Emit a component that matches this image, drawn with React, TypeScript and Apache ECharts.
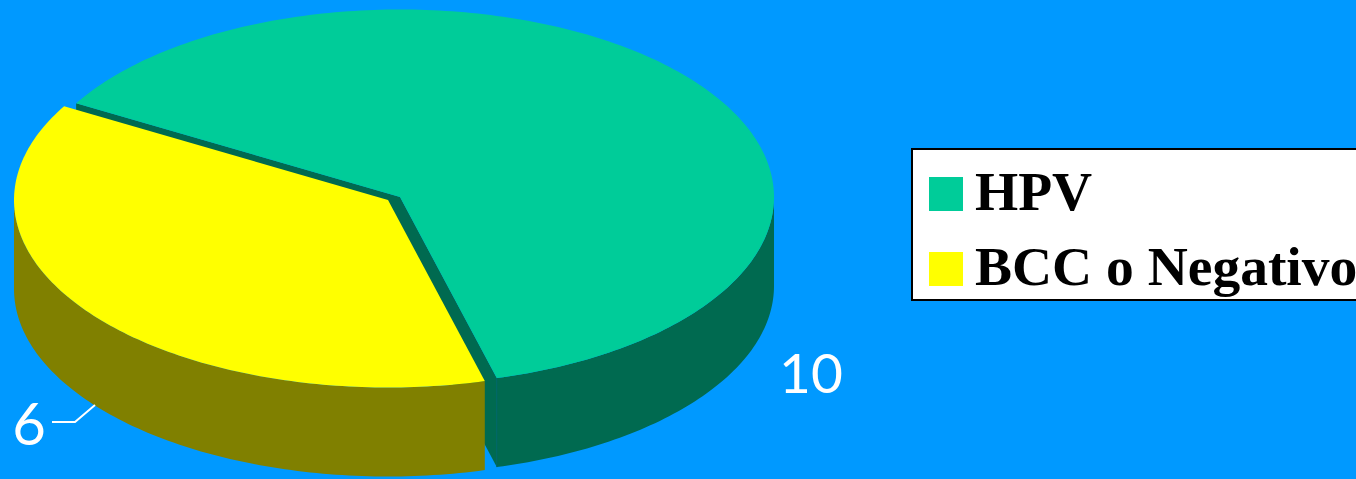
import React, { useEffect, useRef } from "react";
import * as echarts from "echarts";

const categories = ["HPV", "BCC o Negativo"];
const values = [10, 6];
const topColors = ["#00CC99", "#FFFF00"];
const sideColors = ["#006A50", "#808000"];

const START_DEG = 210;
const RX = 374;
const RY = 187.5;
const DEPTH = 89;
const centers = [
  [400, 197],
  [388, 200],
];
const total = values.reduce((a, b) => a + b, 0);

function angleRange(i: number): [number, number] {
  let a = START_DEG;
  for (let k = 0; k < i; k++) a += (values[k] / total) * 360;
  return [a, a + (values[i] / total) * 360];
}

function arc(cx: number, cy: number, from: number, to: number, dy = 0): number[][] {
  const pts: number[][] = [];
  const n = Math.max(2, Math.ceil(Math.abs(to - from)));
  for (let k = 0; k <= n; k++) {
    const t = ((from + ((to - from) * k) / n) * Math.PI) / 180;
    pts.push([cx + RX * Math.cos(t), cy + RY * Math.sin(t) + dy]);
  }
  return pts;
}

function makeRender(i: number) {
  return (_params: any, api: any) => {
    const [cx, cy] = centers[i];
    const [a0, a1] = angleRange(i);
    const side = sideColors[i];
    const children: any[] = [];
    // Visible part of the outer wall: the portion of the rim on the front half.
    const visible: [number, number][] = [];
    for (let base = 0; base <= 720; base += 360) {
      const f = Math.max(a0, base);
      const t = Math.min(a1, base + 180);
      if (t > f) visible.push([f, t]);
    }
    for (const [f, t] of visible) {
      const top = arc(cx, cy, f, t);
      const bottom = arc(cx, cy, f, t, DEPTH).reverse();
      children.push({ type: "polygon", shape: { points: top.concat(bottom) }, style: { fill: side } });
    }
    // Cut faces of the first slice, showing in the gap beside the pulled-out slice.
    if (i === 0) {
      const pA = arc(cx, cy, a0, a0)[0];
      const pB = arc(cx, cy, a1, a1)[0];
      for (const p of [pA, pB]) {
        children.push({
          type: "polygon",
          shape: {
            points: [
              [cx, cy],
              p,
              [p[0], p[1] + DEPTH],
              [cx, cy + DEPTH],
            ],
          },
          style: { fill: side },
        });
      }
      children.push({
        type: "line",
        shape: { x1: pB[0], y1: pB[1], x2: pB[0], y2: pB[1] + DEPTH },
        style: { stroke: "#006666", lineWidth: 1 },
      });
    }
    // Top face
    children.push({
      type: "polygon",
      shape: { points: [[cx, cy] as number[]].concat(arc(cx, cy, a0, a1)) },
      style: { fill: topColors[i] },
    });
    // Label
    const text = String(api.value(0));
    if (i === 0) {
      children.push({
        type: "text",
        style: {
          x: 811,
          y: 372,
          text,
          fill: "#FFFFFF",
          font: "55px Lato",
          align: "center",
          verticalAlign: "middle",
        },
      });
    } else {
      children.push({
        type: "polyline",
        shape: { points: [[52, 422], [75, 422], [95, 405]] },
        style: { stroke: "#FFFFFF", fill: "none", lineWidth: 2 },
      });
      children.push({
        type: "text",
        style: {
          x: 29,
          y: 422,
          text,
          fill: "#FFFFFF",
          font: "58px Lato",
          align: "center",
          verticalAlign: "middle",
        },
      });
    }
    return { type: "group", children };
  };
}

export default function App() {
  const ref = useRef<HTMLDivElement>(null);
  useEffect(() => {
    document.body.style.margin = "0";
    document.body.style.overflow = "hidden";
    const chart = echarts.init(ref.current!, undefined, { renderer: "svg" });
    chart.setOption({
      animation: false,
      backgroundColor: "#0099FF",
      legend: {
        show: true,
        orient: "vertical",
        left: 912,
        top: 149,
        padding: [14, 20, 6, 17],
        itemWidth: 34,
        itemHeight: 34,
        itemGap: 19,
        icon: "rect",
        backgroundColor: "#FFFFFF",
        borderColor: "#000000",
        borderWidth: 2,
        borderRadius: 0,
        data: categories,
        formatter: "{t|{name}}",
        textStyle: {
          fontFamily: "Liberation Serif",
          fontWeight: "bold",
          fontSize: 55.5,
          color: "#000000",
          padding: [0, 0, 0, 7],
          rich: {
            t: {
              fontFamily: "Liberation Serif",
              fontWeight: "bold",
              fontSize: 55.5,
              color: "#000000",
              lineHeight: 60,
              height: 54,
              verticalAlign: "top",
            },
          },
        },
      },
      series: categories.map((name, i) => ({
        type: "custom",
        name,
        coordinateSystem: "none",
        itemStyle: { color: topColors[i] },
        data: [[values[i]]],
        renderItem: makeRender(i),
        z: i + 1,
      })),
    });
    return () => chart.dispose();
  }, []);
  return <div ref={ref} style={{ width: 1356, height: 479 }} />;
}
